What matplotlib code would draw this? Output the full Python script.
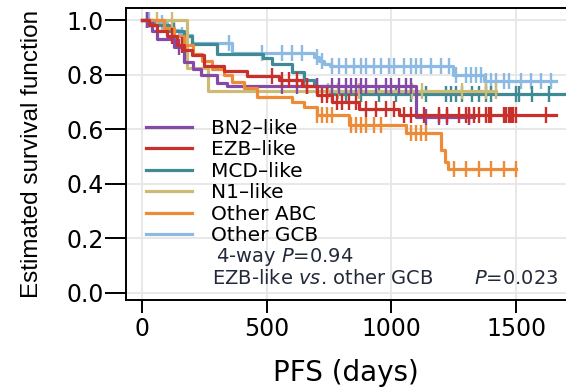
import numpy as np
import matplotlib
matplotlib.use('Agg')
import matplotlib.pyplot as plt

# Kaplan-Meier Kurven (Zeitpunkte der Stufen, Überlebensrate nach der Stufe, Zensierungen)
groups = ['BN2–like', 'EZB–like', 'MCD–like', 'N1–like', 'Other ABC', 'Other GCB']
colors = ['#8549a8', '#c9302c', '#3f8a93', '#cdbb75', '#ec8c38', '#8dbae2']

bn2_t = [0, 40, 60, 130, 170, 205, 235, 300, 340, 1100]
bn2_s = [1.0, 0.96, 0.93, 0.90, 0.845, 0.82, 0.797, 0.77, 0.76, 0.645]
bn2_end = 1330
bn2_c = [20, 150, 560, 620, 660, 700, 760, 790, 820, 840, 860, 880, 900, 940, 980,
         1000, 1030, 1060, 1080, 1140, 1192, 1224, 1312]

ezb_t = [0, 30, 60, 100, 140, 170, 200, 250, 330, 420, 550, 640, 700, 760, 870, 1030]
ezb_s = [1.0, 0.98, 0.96, 0.94, 0.91, 0.89, 0.87, 0.833, 0.815, 0.795, 0.78, 0.76,
         0.725, 0.70, 0.675, 0.652]
ezb_end = 1660
ezb_c = [120, 160, 520, 560, 590, 620, 660, 720, 740, 780, 800, 830, 860, 900, 940,
         980, 1010, 1050, 1080, 1132, 1192, 1224, 1272, 1300, 1312, 1332, 1352, 1380,
         1392, 1400, 1452, 1460, 1470, 1480, 1488, 1500, 1620]

mcd_t = [0, 50, 110, 170, 200, 300, 485, 520, 600, 650, 690, 740]
mcd_s = [1.0, 0.98, 0.96, 0.94, 0.913, 0.877, 0.86, 0.84, 0.81, 0.78, 0.76, 0.73]
mcd_end = 1690
mcd_c = [20, 130, 650, 700, 760, 820, 880, 950, 1020, 1080, 1140, 1220, 1240, 1260,
         1284, 1324, 1352, 1380, 1400, 1500, 1512, 1564, 1632]

n1_t = [0, 180, 264]
n1_s = [1.0, 0.826, 0.74]
n1_end = 1420
n1_c = [60, 120, 744, 784, 872, 1084, 1124, 1284, 1380, 1420]

abc_t = [0, 90, 130, 170, 205, 240, 280, 330, 360, 410, 460, 600, 650, 700, 830, 1060,
         1200, 1215, 1225]
abc_s = [1.0, 0.97, 0.94, 0.91, 0.877, 0.85, 0.822, 0.797, 0.772, 0.75, 0.717, 0.70,
         0.68, 0.652, 0.616, 0.585, 0.525, 0.48, 0.455]
abc_end = 1500
abc_c = [700, 720, 740, 760, 840, 860, 880, 900, 930, 960, 1080, 1100, 1120, 1140,
         1250, 1300, 1352, 1400, 1452, 1500]

gcb_t = [0, 40, 100, 150, 200, 360, 690, 710, 730, 752, 1245, 1372]
gcb_s = [1.0, 0.99, 0.965, 0.945, 0.915, 0.88, 0.865, 0.85, 0.84, 0.833, 0.80, 0.775]
gcb_end = 1660
gcb_c = [30, 80, 130, 160, 350, 480, 560, 600, 640, 700, 720, 760, 790, 820, 850, 880,
         900, 930, 960, 990, 1010, 1050, 1080, 1100, 1120, 1160, 1200, 1230, 1260, 1300,
         1320, 1340, 1360, 1380, 1400, 1420, 1450, 1470, 1520, 1560, 1600, 1640]

curves = [(bn2_t, bn2_s, bn2_end, bn2_c), (ezb_t, ezb_s, ezb_end, ezb_c),
          (mcd_t, mcd_s, mcd_end, mcd_c), (n1_t, n1_s, n1_end, n1_c),
          (abc_t, abc_s, abc_end, abc_c), (gcb_t, gcb_s, gcb_end, gcb_c)]

y_ticks = [0.0, 0.2, 0.4, 0.6, 0.8, 1.0]
x_ticks = [0, 500, 1000, 1500]

fig = plt.figure(figsize=(5.66, 3.90), dpi=100)
ax = fig.add_axes([126 / 566, 1 - 299.5 / 390, 1 - 126 / 566, 291.5 / 390])

# Zeichnen in umgekehrter Reihenfolge, damit die blaue Kurve hinten liegt
order = [5, 2, 3, 0, 4, 1]
handles = {}
for i in order:
    t, s, end, cens = curves[i]
    tt = np.array(t + [end], dtype=float)
    ss = np.array(s + [s[-1]], dtype=float)
    line, = ax.step(tt, ss, where='post', color=colors[i], lw=2.3, label=groups[i])
    handles[i] = line
    idx = np.searchsorted(np.array(t), np.array(cens), side='right') - 1
    ax.plot(cens, np.array(s)[idx], '|', color=colors[i], ms=11, mew=1.7)

ax.set_xlim(-64, 1700)
ax.set_ylim(-0.024, 1.044)
ax.set_xticks(x_ticks)
ax.set_yticks(y_ticks)
ax.set_yticklabels(['{:.1f}'.format(v) for v in y_ticks])
ax.grid(True, color='#e6e6e6', lw=1.3)
ax.set_axisbelow(True)
ax.tick_params(direction='out', width=1.4, labelsize=17)
ax.tick_params(axis='x', length=9.5, pad=3)
ax.tick_params(axis='y', length=15, pad=1)
ax.spines['right'].set_visible(False)
for sp in ['left', 'bottom', 'top']:
    ax.spines[sp].set_linewidth(1.4)

ax.set_xlabel('PFS (days)', fontsize=20, labelpad=13)
ax.set_ylabel('Estimated survival function', fontsize=17.5,
              family=['Liberation Sans', 'DejaVu Sans'], labelpad=17)

leg = ax.legend([handles[i] for i in range(6)], groups, frameon=False,
                loc='upper left', bbox_to_anchor=(146 / 566, 1 - 119 / 390),
                bbox_transform=fig.transFigure, fontsize=14.5, handlelength=2.3,
                handletextpad=0.95, labelspacing=0.12, borderpad=0, borderaxespad=0)

txt_col = '#222a3a'
fig.text(216 / 566, 1 - 257 / 390, '4-way $\\mathit{P}$=0.94', fontsize=14,
         color=txt_col, va='center', ha='left')
fig.text(212 / 566, 1 - 278 / 390, 'EZB-like $\\mathit{vs}$. other GCB', fontsize=14,
         color=txt_col, va='center', ha='left')
fig.text(558 / 566, 1 - 278 / 390, '$\\mathit{P}$=0.023', fontsize=14,
         color=txt_col, va='center', ha='right')

fig.savefig('out.png', dpi=100)
